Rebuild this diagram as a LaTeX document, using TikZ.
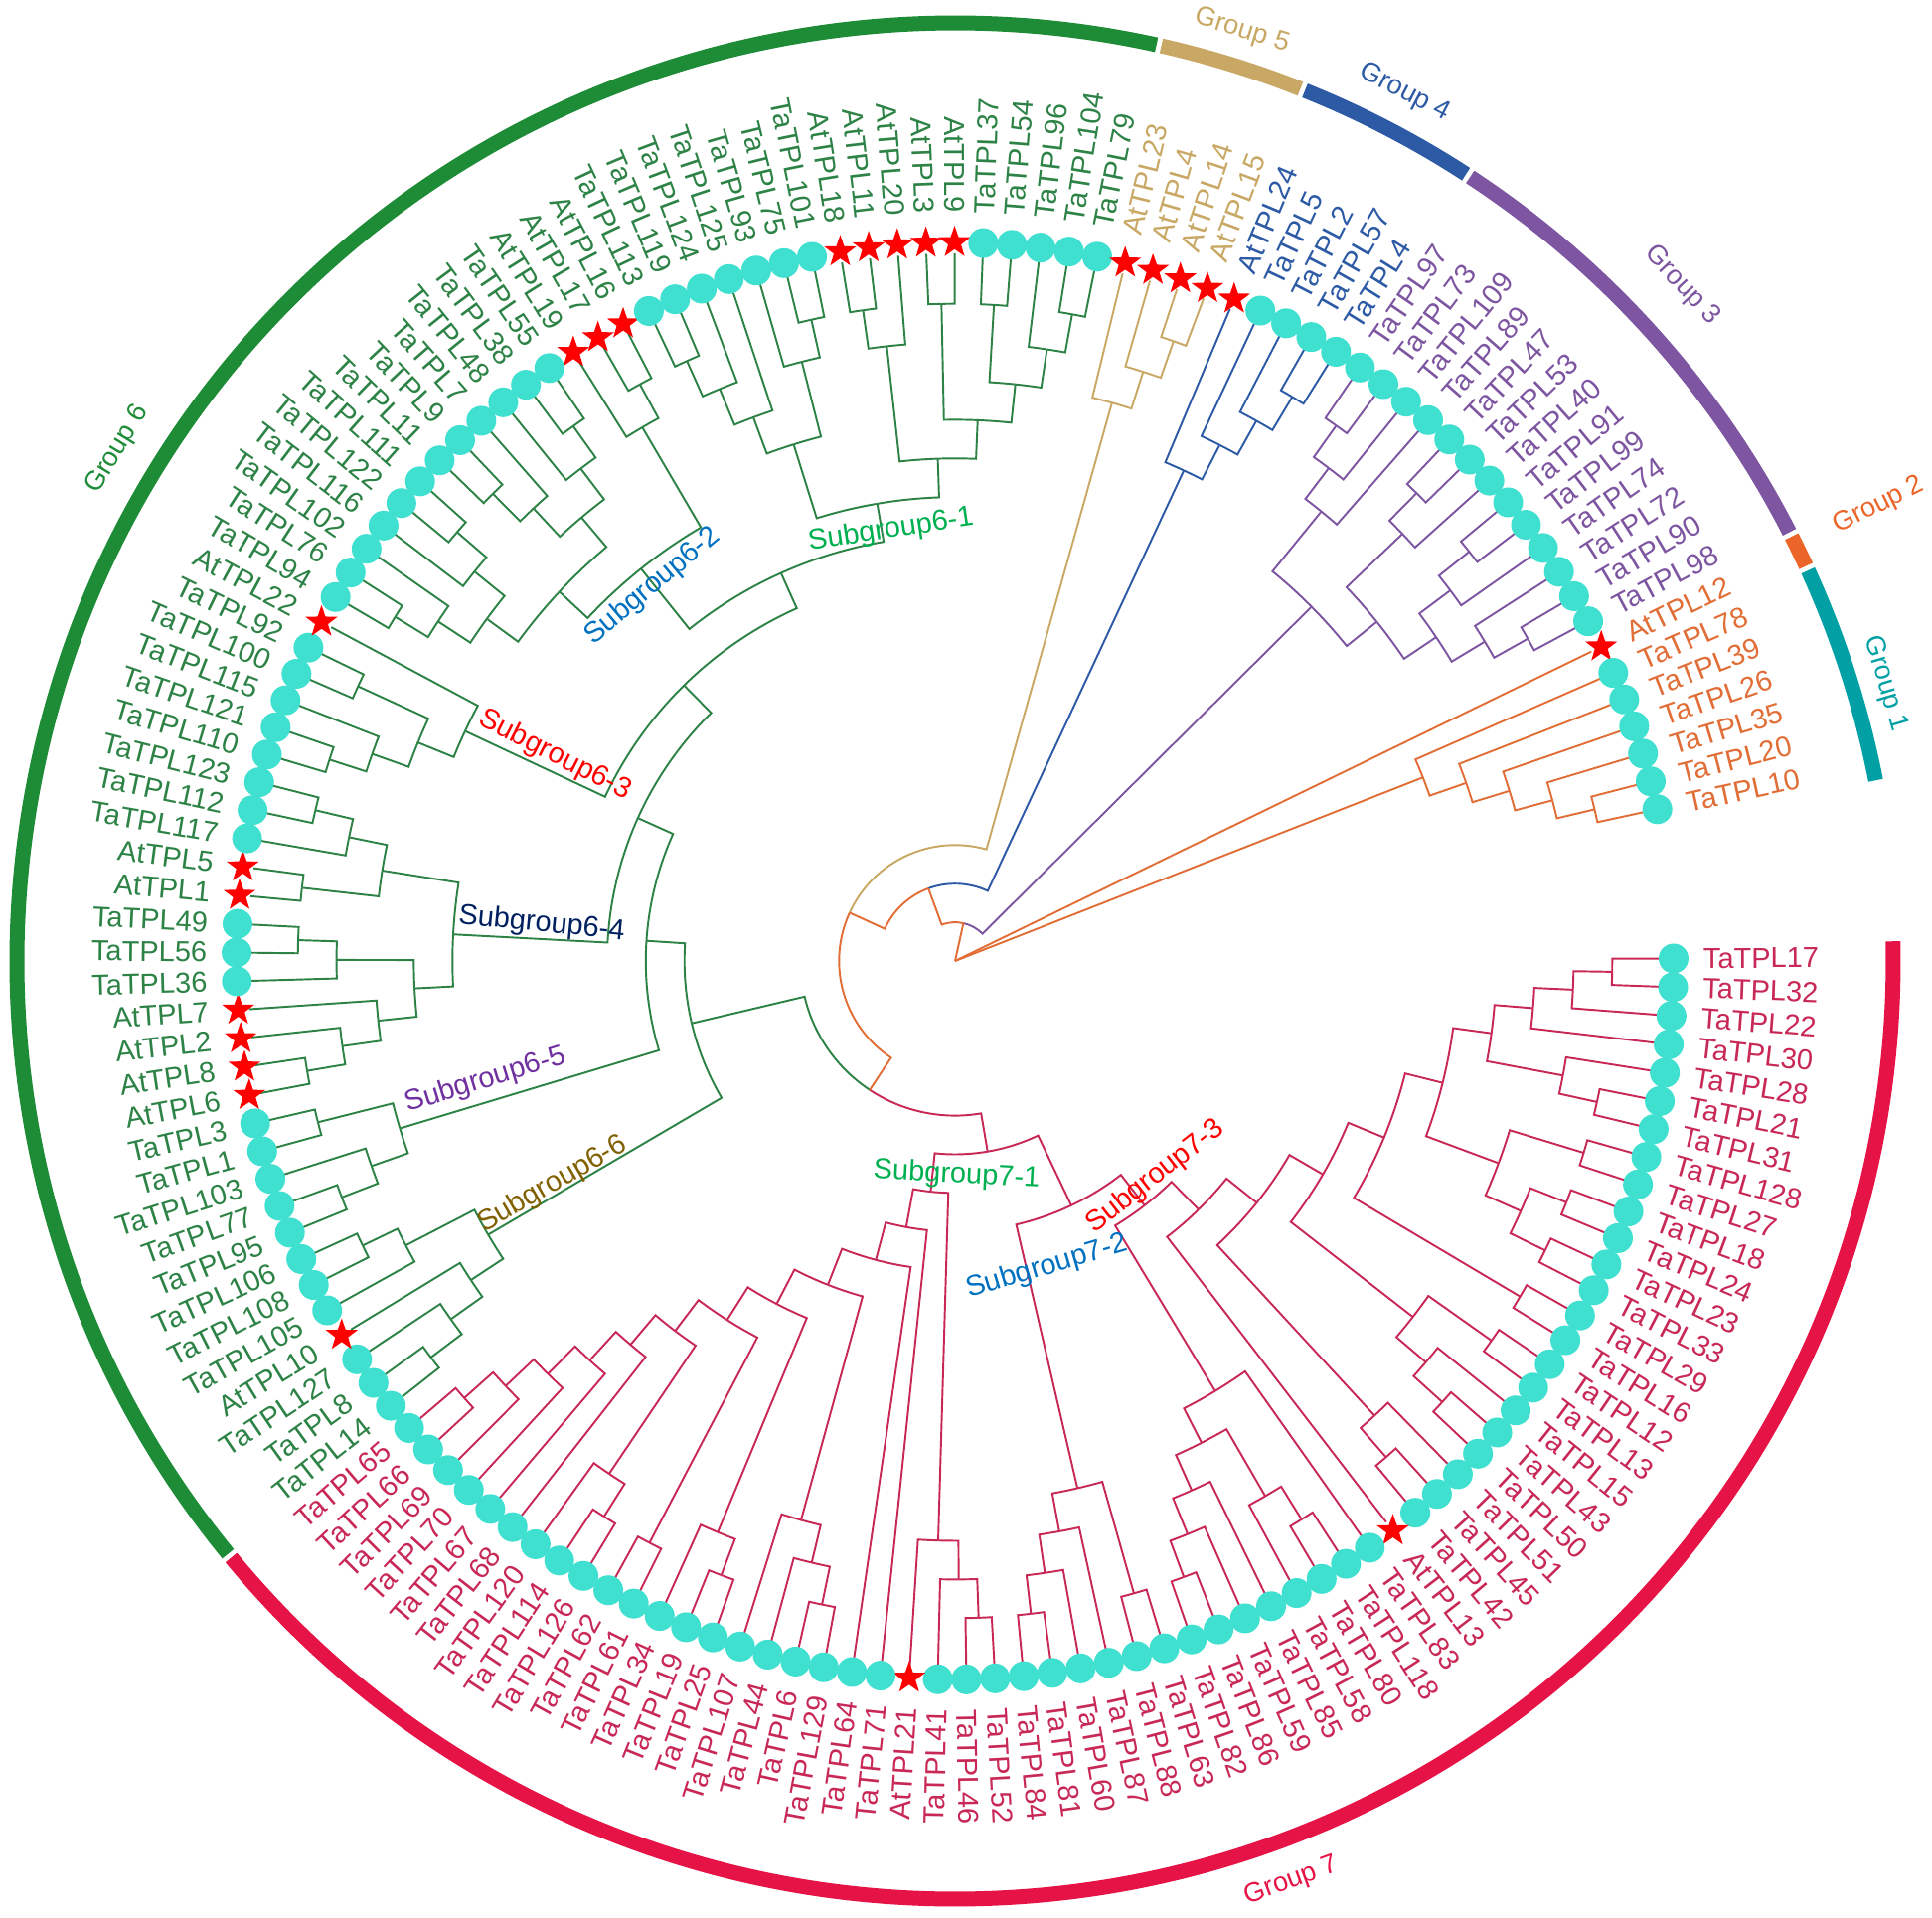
\documentclass[tikz,border=0pt]{standalone}
\usepackage{fontspec}
\setmainfont{Liberation Sans}
\usetikzlibrary{shapes.geometric}

\definecolor{brG7}{RGB}{200,40,85}
\definecolor{rgG7}{RGB}{230,20,70}
\definecolor{brG6}{RGB}{45,130,70}
\definecolor{rgG6}{RGB}{30,140,55}
\definecolor{brG5}{RGB}{200,168,100}
\definecolor{brG4}{RGB}{45,90,165}
\definecolor{brG3}{RGB}{125,85,160}
\definecolor{brG2}{RGB}{225,110,55}
\definecolor{rgG2}{RGB}{235,100,40}
\definecolor{rgG1}{RGB}{0,160,165}
\definecolor{leafc}{RGB}{64,224,208}
\definecolor{starc}{RGB}{255,0,0}
\definecolor{sgGreen}{RGB}{0,176,80}
\definecolor{sgBlue}{RGB}{0,112,192}
\definecolor{sgRed}{RGB}{255,0,0}
\definecolor{sgNavy}{RGB}{0,32,96}
\definecolor{sgPurple}{RGB}{112,48,160}
\definecolor{sgBrown}{RGB}{128,96,0}

\newcommand\stp{0.778}
% leaf: index, colour
\newcommand\lf[2]{%
  \pgfmathsetmacro\tmpa{0.2-2.2895*#1}%
  \expandafter\xdef\csname tA#1\endcsname{\tmpa}%
  \expandafter\xdef\csname tH#1\endcsname{0}%
  \expandafter\xdef\csname tR#1\endcsname{14.24}%
  \expandafter\xdef\csname tC#1\endcsname{#2}}
% clade: name, child, child
\newcommand\nd[3]{%
  \edef\aA{\csname tA#2\endcsname}\edef\aB{\csname tA#3\endcsname}%
  \edef\rA{\csname tR#2\endcsname}\edef\rB{\csname tR#3\endcsname}%
  \edef\cA{\csname tC#2\endcsname}\edef\cB{\csname tC#3\endcsname}%
  \pgfmathtruncatemacro\hN{max(\csname tH#2\endcsname,\csname tH#3\endcsname)+1}%
  \pgfmathsetmacro\rN{(18-\hN)*\stp}%
  \pgfmathsetmacro\aN{(\aA+\aB)/2}%
  \draw[\cA] (\aN:\rN) arc[start angle=\aN, end angle=\aA, radius=\rN] -- (\aA:\rA);%
  \draw[\cB] (\aN:\rN) arc[start angle=\aN, end angle=\aB, radius=\rN] -- (\aB:\rB);%
  \expandafter\xdef\csname tA#1\endcsname{\aN}%
  \expandafter\xdef\csname tR#1\endcsname{\rN}%
  \expandafter\xdef\csname tH#1\endcsname{\hN}%
  \expandafter\xdef\csname tC#1\endcsname{\brc}}
\newcommand\rootto[1]{%
  \edef\aA{\csname tA#1\endcsname}\edef\rA{\csname tR#1\endcsname}%
  \edef\cA{\csname tC#1\endcsname}%
  \draw[\cA] (0,0) -- (\aA:\rA);}
% labels: first index, colour, names
\newcommand\labs[3]{%
  \foreach \nm [count=\k from #1] in {#3}{%
    \pgfmathsetmacro\la{0.2-2.2895*\k}%
    \pgfmathsetmacro\lc{cos(\la)}%
    \ifdim\lc pt<0pt
      \node[leaflab, text=#2, anchor=east, rotate=\la+180] at (\la:15.04) {\nm};
    \else
      \node[leaflab, text=#2, anchor=west, rotate=\la] at (\la:15.04) {\nm};
    \fi}}

\tikzset{
  starmk/.style={star, star points=5, star point ratio=2.5, fill=starc, draw=none, inner sep=0pt, minimum size=0.68cm},
  leaflab/.style={font=\fontsize{16.5}{19}\selectfont, inner sep=0pt},
  sublab/.style={font=\fontsize{16.5}{19}\selectfont, inner sep=0pt},
  grplab/.style={font=\fontsize{15.5}{18}\selectfont, inner sep=0pt},
  ringarc/.style={line width=0.3cm}
}

\begin{document}
\begin{tikzpicture}[line width=1.1pt]
\useasboundingbox (-19.22,-19.26) rectangle (19.66,19.34);

% leaves
\foreach \i in {0,...,61}{\lf{\i}{brG7}}
\foreach \i in {62,...,123}{\lf{\i}{brG6}}
\foreach \i in {124,...,127}{\lf{\i}{brG5}}
\foreach \i in {128,...,132}{\lf{\i}{brG4}}
\foreach \i in {133,...,145}{\lf{\i}{brG3}}
\foreach \i in {146,...,152}{\lf{\i}{brG2}}
\foreach \i in {23,41,65,74,75,76,77,81,82,91,104,105,106,114,115,116,117,118,124,125,126,127,128,146}{\expandafter\gdef\csname st\i\endcsname{}}

% group 7
\def\brc{brG7}
\nd{a1}{0}{1}
\nd{a2}{a1}{2}
\nd{a3}{a2}{3}
\nd{b1}{5}{6}
\nd{b}{4}{b1}
\nd{a4}{a3}{b}
\nd{c1}{7}{8}
\nd{c2}{9}{10}
\nd{c3}{11}{12}
\nd{c4}{c2}{c3}
\nd{c}{c1}{c4}
\nd{a5}{a4}{c}
\nd{e}{13}{14}
\nd{a6}{a5}{e}
\nd{f1}{15}{16}
\nd{f2}{18}{19}
\nd{f3}{17}{f2}
\nd{f}{f1}{f3}
\nd{a7}{a6}{f}
\nd{h1}{21}{22}
\nd{h}{20}{h1}
\nd{a8}{a7}{h}
\nd{a9}{a8}{23}
\nd{j1}{25}{26}
\nd{j2}{j1}{27}
\nd{j3}{30}{31}
\nd{j4}{29}{j3}
\nd{j5}{28}{j4}
\nd{j6}{j2}{j5}
\nd{j}{24}{j6}
\nd{sgs}{a9}{j}
\nd{k1}{37}{36}
\nd{k2}{k1}{35}
\nd{k3}{k2}{34}
\nd{k4}{33}{32}
\nd{sgt}{k3}{k4}
\nd{nst}{sgt}{sgs}
\nd{t1a}{39}{38}
\nd{t1b}{40}{t1a}
\nd{t1}{41}{t1b}
\nd{t12}{60}{61}
\nd{t11}{59}{t12}
\nd{t10}{58}{t11}
\nd{t9}{57}{t10}
\nd{t8}{56}{t9}
\nd{t7a}{53}{54}
\nd{t7b}{t7a}{55}
\nd{t7}{t7b}{t8}
\nd{t6a}{51}{52}
\nd{t6}{t6a}{t7}
\nd{t5a}{49}{48}
\nd{t5b}{50}{t5a}
\nd{t5}{t5b}{t6}
\nd{t4a}{45}{44}
\nd{t4b}{46}{t4a}
\nd{t4c}{47}{t4b}
\nd{t4}{t4c}{t5}
\nd{t3}{43}{t4}
\nd{t2}{42}{t3}
\nd{sgo}{t1}{t2}
\nd{gs}{sgo}{nst}

% group 6
\def\brc{brG6}
\nd{m1}{68}{67}
\nd{m2}{m1}{66}
\nd{m3}{63}{62}
\nd{m4}{64}{m3}
\nd{m5}{65}{m4}
\nd{sgx}{m2}{m5}
\nd{n1}{73}{72}
\nd{n2}{70}{69}
\nd{n3}{71}{n2}
\nd{sgv}{n1}{n3}
\nd{p1}{84}{85}
\nd{p2}{p1}{83}
\nd{p3}{81}{82}
\nd{p4}{p2}{p3}
\nd{p5}{79}{80}
\nd{p6}{p5}{78}
\nd{p7}{75}{74}
\nd{p8}{76}{p7}
\nd{p9}{77}{p8}
\nd{p10}{p6}{p9}
\nd{sgiv}{p4}{p10}
\nd{q1}{86}{87}
\nd{q2}{q1}{88}
\nd{q3}{89}{90}
\nd{q4}{q2}{q3}
\nd{sgiii}{q4}{91}
\nd{r1}{92}{93}
\nd{r2}{r1}{94}
\nd{r3}{96}{97}
\nd{r4}{95}{r3}
\nd{r5}{r2}{r4}
\nd{r6}{98}{99}
\nd{r7}{r6}{100}
\nd{r8}{102}{103}
\nd{r9}{101}{r8}
\nd{r10}{r7}{r9}
\nd{r11}{r5}{r10}
\nd{r12}{105}{106}
\nd{r13}{104}{r12}
\nd{sgii}{r11}{r13}
\nd{s1}{107}{108}
\nd{s2}{s1}{109}
\nd{s3}{s2}{110}
\nd{s4}{112}{113}
\nd{s5}{111}{s4}
\nd{s6}{s3}{s5}
\nd{s7}{114}{115}
\nd{s8}{116}{s7}
\nd{s9}{117}{118}
\nd{s10}{119}{120}
\nd{s11}{122}{123}
\nd{s12}{121}{s11}
\nd{s13}{s10}{s12}
\nd{s14}{s9}{s13}
\nd{s15}{s8}{s14}
\nd{sgi}{s6}{s15}
\nd{u1}{sgii}{sgi}
\nd{u2}{sgiii}{u1}
\nd{u3}{sgiv}{u2}
\nd{u4}{sgv}{u3}
\nd{gx}{sgx}{u4}

% groups 5, 4, 3, 1
\def\brc{brG5}
\nd{v1}{126}{127}
\nd{v2}{125}{v1}
\nd{gv}{124}{v2}
\def\brc{brG4}
\nd{w1}{131}{132}
\nd{w2}{130}{w1}
\nd{w3}{129}{w2}
\nd{gw}{128}{w3}
\def\brc{brG3}
\nd{x1}{133}{134}
\nd{x2}{x1}{135}
\nd{x3}{x2}{136}
\nd{x4}{137}{138}
\nd{x5}{x4}{139}
\nd{x6}{140}{141}
\nd{x7}{x6}{142}
\nd{x8}{144}{145}
\nd{x9}{143}{x8}
\nd{x10}{x7}{x9}
\nd{x11}{x5}{x10}
\nd{gy}{x3}{x11}
\def\brc{brG2}
\nd{y1}{151}{152}
\nd{y2}{150}{y1}
\nd{y3}{149}{y2}
\nd{y4}{148}{y3}
\nd{gz}{147}{y4}

% backbone
\nd{bR}{gx}{gs}
\nd{bZ}{gv}{bR}
\nd{bY}{gw}{bZ}
\nd{bX}{gy}{bY}
\rootto{bX}
\rootto{gz}
\rootto{146}

% leaf markers
\foreach \i in {0,...,152}{%
  \pgfmathsetmacro\la{0.2-2.2895*\i}%
  \ifcsname st\i\endcsname
    \node[starmk] at (\la:14.46) {};
  \else
    \fill[leafc] (\la:14.46) circle[radius=0.3];
  \fi}

% leaf labels
\labs{0}{brG7}{TaTPL17, TaTPL32, TaTPL22, TaTPL30, TaTPL28, TaTPL21, TaTPL31, TaTPL128, TaTPL27, TaTPL18, TaTPL24, TaTPL23, TaTPL33, TaTPL29, TaTPL16, TaTPL12, TaTPL13, TaTPL15, TaTPL43, TaTPL50, TaTPL51, TaTPL45, TaTPL42, AtTPL13, TaTPL83, TaTPL118, TaTPL80, TaTPL58, TaTPL85, TaTPL59, TaTPL86, TaTPL82, TaTPL63, TaTPL88, TaTPL87, TaTPL60, TaTPL81, TaTPL84, TaTPL52, TaTPL46, TaTPL41, AtTPL21, TaTPL71, TaTPL64, TaTPL129, TaTPL6, TaTPL44, TaTPL107, TaTPL25, TaTPL19, TaTPL34, TaTPL61, TaTPL62, TaTPL126, TaTPL114, TaTPL120, TaTPL68, TaTPL67, TaTPL70, TaTPL69, TaTPL66, TaTPL65}
\labs{62}{brG6}{TaTPL14, TaTPL8, TaTPL127, AtTPL10, TaTPL105, TaTPL108, TaTPL106, TaTPL95, TaTPL77, TaTPL103, TaTPL1, TaTPL3, AtTPL6, AtTPL8, AtTPL2, AtTPL7, TaTPL36, TaTPL56, TaTPL49, AtTPL1, AtTPL5, TaTPL117, TaTPL112, TaTPL123, TaTPL110, TaTPL121, TaTPL115, TaTPL100, TaTPL92, AtTPL22, TaTPL94, TaTPL76, TaTPL102, TaTPL116, TaTPL122, TaTPL111, TaTPL11, TaTPL9, TaTPL7, TaTPL48, TaTPL38, TaTPL55, AtTPL19, AtTPL17, AtTPL16, TaTPL113, TaTPL119, TaTPL124, TaTPL125, TaTPL93, TaTPL75, TaTPL101, AtTPL18, AtTPL11, AtTPL20, AtTPL3, AtTPL9, TaTPL37, TaTPL54, TaTPL96, TaTPL104, TaTPL79}
\labs{124}{brG5}{AtTPL23, AtTPL4, AtTPL14, AtTPL15}
\labs{128}{brG4}{AtTPL24, TaTPL5, TaTPL2, TaTPL57, TaTPL4}
\labs{133}{brG3}{TaTPL97, TaTPL73, TaTPL109, TaTPL89, TaTPL47, TaTPL53, TaTPL40, TaTPL91, TaTPL99, TaTPL74, TaTPL72, TaTPL90, TaTPL98}
\labs{146}{brG2}{AtTPL12, TaTPL78, TaTPL39, TaTPL26, TaTPL35, TaTPL20, TaTPL10}

% subgroup labels
\node[sublab, text=sgGreen, rotate=8.5] (sg61) at (-1.29,8.67) {Subgroup6-1};
\node[sublab, text=sgBlue, rotate=40] (sg62) at (-6.09,7.54) {Subgroup6-2};
\node[sublab, text=sgRed, rotate=-26.8] (sg63) at (-8.05,4.14) {Subgroup6-3};
\node[sublab, text=sgNavy, rotate=-5.6] (sg64) at (-8.32,0.74) {Subgroup6-4};
\node[sublab, text=sgPurple, rotate=17] (sg65) at (-9.45,-2.40) {Subgroup6-5};
\node[sublab, text=sgBrown, rotate=30] (sg66) at (-8.10,-4.50) {Subgroup6-6};
\node[sublab, text=sgGreen, rotate=-3] (sg71) at (0.03,-4.31) {Subgroup7-1};
\node[sublab, text=sgBlue, rotate=16.5] (sg72) at (1.85,-6.16) {Subgroup7-2};
\node[sublab, text=sgRed, rotate=38] (sg73) at (4.03,-4.34) {Subgroup7-3};

% outer ring
\draw[ringarc, rgG7] (1.2:18.88) arc[start angle=1.2, end angle=-140.5, radius=18.88];
\draw[ringarc, rgG6] (-140.8:18.88) arc[start angle=-140.8, end angle=-282.4, radius=18.88];
\draw[ringarc, brG5] (-282.7:18.88) arc[start angle=-282.7, end angle=-291.6, radius=18.88];
\draw[ringarc, brG4] (-291.9:18.88) arc[start angle=-291.9, end angle=-303.0, radius=18.88];
\draw[ringarc, brG3] (-303.3:18.88) arc[start angle=-303.3, end angle=-332.8, radius=18.88];
\draw[ringarc, rgG2] (-333.1:18.88) arc[start angle=-333.1, end angle=-335.1, radius=18.88];
\draw[ringarc, rgG1] (-335.4:18.88) arc[start angle=-335.4, end angle=-348.9, radius=18.88];

% group labels
\node[grplab, text=rgG7, rotate=20.1] (g7) at (6.77,-18.52) {Group 7};
\node[grplab, text=rgG6, rotate=58.6] (g6) at (-16.86,10.29) {Group 6};
\node[grplab, text=brG5, rotate=-17.1] (g5) at (5.77,18.72) {Group 5};
\node[grplab, text=brG4, rotate=-27.4] (g4) at (9.05,17.48) {Group 4};
\node[grplab, text=brG3, rotate=-47.1] (g3) at (14.63,13.59) {Group 3};
\node[grplab, text=rgG2, rotate=26.3] (g2) at (18.59,9.17) {Group 2};
\node[grplab, text=rgG1, rotate=-73.4] (g1) at (18.72,5.58) {Group 1};
\end{tikzpicture}
\end{document}
